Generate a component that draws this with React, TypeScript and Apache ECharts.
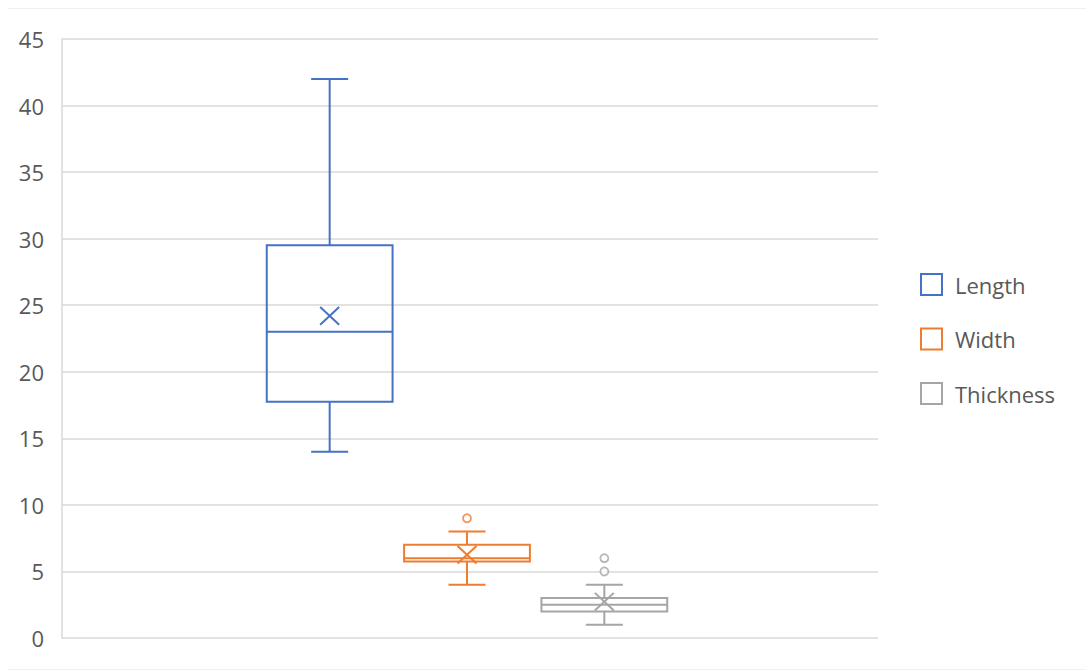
import { useEffect, useRef } from "react";
import * as echarts from "echarts";

// Box statistics: [min, Q1, median, Q3, max]
const categories = ["Length", "Width", "Thickness"];
const seriesColors = ["#4472C4", "#ED7D31", "#A5A5A5"];
const lengthBox = [14, 17.75, 23, 29.5, 42];
const widthBox = [4, 5.75, 6, 7, 8];
const thicknessBox = [1, 2, 2.5, 3, 4];
const meanValues = [24.2, 6.25, 2.73];
const lengthOutliers: number[] = [];
const widthOutliers = [9];
const thicknessOutliers = [5, 6];
const yMin = 0;
const yMax = 45;
const yInterval = 5;

const boxes = [lengthBox, widthBox, thicknessBox];
const outliers = [lengthOutliers, widthOutliers, thicknessOutliers];

const FONT = "'Open Sans', 'Noto Sans', sans-serif";
const TEXT_COLOR = "#595959";

function makeRenderer(color: string) {
  return (params: any, api: any) => {
    const x = api.value(0);
    const pMin = api.coord([x, api.value(1)]);
    const pQ1 = api.coord([x, api.value(2)]);
    const pMed = api.coord([x, api.value(3)]);
    const pQ3 = api.coord([x, api.value(4)]);
    const pMax = api.coord([x, api.value(5)]);
    const pMean = api.coord([x, api.value(6)]);
    const band = api.size([1, 0])[0];
    const bw = band * 0.916;
    const cx = pMed[0];
    const cap = 18.5;
    const mx = 9.5;
    const my = 8.8;
    const st = { stroke: color, lineWidth: 2, fill: null };
    return {
      type: "group",
      children: [
        { type: "line", shape: { x1: cx, y1: pMax[1], x2: cx, y2: pQ3[1] }, style: st },
        { type: "line", shape: { x1: cx, y1: pQ1[1], x2: cx, y2: pMin[1] }, style: st },
        { type: "line", shape: { x1: cx - cap, y1: pMax[1], x2: cx + cap, y2: pMax[1] }, style: st },
        { type: "line", shape: { x1: cx - cap, y1: pMin[1], x2: cx + cap, y2: pMin[1] }, style: st },
        {
          type: "rect",
          shape: { x: cx - bw / 2, y: pQ3[1], width: bw, height: pQ1[1] - pQ3[1] },
          style: { stroke: color, lineWidth: 2, fill: "rgba(255,255,255,0)" },
        },
        { type: "line", shape: { x1: cx - bw / 2, y1: pMed[1], x2: cx + bw / 2, y2: pMed[1] }, style: st },
        { type: "line", shape: { x1: cx - mx, y1: pMean[1] - my, x2: cx + mx, y2: pMean[1] + my }, style: st },
        { type: "line", shape: { x1: cx - mx, y1: pMean[1] + my, x2: cx + mx, y2: pMean[1] - my }, style: st },
      ],
    };
  };
}

export default function App() {
  const ref = useRef<HTMLDivElement>(null);

  useEffect(() => {
    document.body.style.margin = "0";
    if (!ref.current) return;
    const chart = echarts.init(ref.current, undefined, { renderer: "svg" });

    const series: any[] = [];
    categories.forEach((name, i) => {
      series.push({
        name,
        type: "custom",
        xAxisIndex: 1,
        yAxisIndex: 1,
        renderItem: makeRenderer(seriesColors[i]),
        itemStyle: { color: seriesColors[i] },
        encode: { x: 0, y: [1, 2, 3, 4, 5, 6] },
        data: [[i, ...boxes[i], meanValues[i]]],
        z: 3,
      });
      if (outliers[i].length) {
        series.push({
          name,
          type: "scatter",
          xAxisIndex: 1,
          yAxisIndex: 1,
          symbol: "circle",
          symbolSize: 8,
          itemStyle: { color: "#ffffff", borderColor: seriesColors[i], borderWidth: 1.8 },
          data: outliers[i].map((v) => [i, v]),
          z: 4,
        });
      }
    });

    chart.setOption({
      animation: false,
      backgroundColor: "#ffffff",
      grid: [
        { left: 62, right: 208, top: 39, bottom: 32 },
        { left: 261, right: 413, top: 39, bottom: 32 },
      ],
      xAxis: [
        {
          type: "category",
          gridIndex: 0,
          data: [""],
          axisLine: { show: false },
          axisTick: { show: false },
          axisLabel: { show: false },
        },
        {
          type: "category",
          gridIndex: 1,
          data: categories,
          show: false,
        },
      ],
      yAxis: [
        {
          type: "value",
          gridIndex: 0,
          min: yMin,
          max: yMax,
          interval: yInterval,
          axisLine: { show: true, lineStyle: { color: "#d9d9d9", width: 1.5 } },
          axisTick: { show: false },
          splitLine: { show: true, lineStyle: { color: "#d9d9d9", width: 1.5 } },
          axisLabel: { color: TEXT_COLOR, fontSize: 22, fontFamily: FONT, margin: 18 },
        },
        {
          type: "value",
          gridIndex: 1,
          min: yMin,
          max: yMax,
          interval: yInterval,
          show: false,
          splitLine: { show: false },
        },
      ],
      legend: {
        orient: "vertical",
        left: 915,
        top: 268,
        itemWidth: 21,
        itemHeight: 21,
        itemGap: 31.5,
        icon: "rect",
        textStyle: { color: TEXT_COLOR, fontSize: 22, fontFamily: FONT, lineHeight: 21, padding: [0, 0, 0, 8] },
        data: categories.map((name, i) => ({
          name,
          icon: "rect",
          itemStyle: { color: "#ffffff", borderColor: seriesColors[i], borderWidth: 2 },
        })),
      },
      graphic: [
        { type: "line", shape: { x1: 8, y1: 8.5, x2: 1086, y2: 8.5 }, style: { stroke: "#f0f0f0", lineWidth: 1 } },
        { type: "line", shape: { x1: 8, y1: 669.5, x2: 1086, y2: 669.5 }, style: { stroke: "#f0f0f0", lineWidth: 1 } },
      ],
      series,
    });

    return () => chart.dispose();
  }, []);

  return <div ref={ref} style={{ width: 1086, height: 670 }} />;
}
